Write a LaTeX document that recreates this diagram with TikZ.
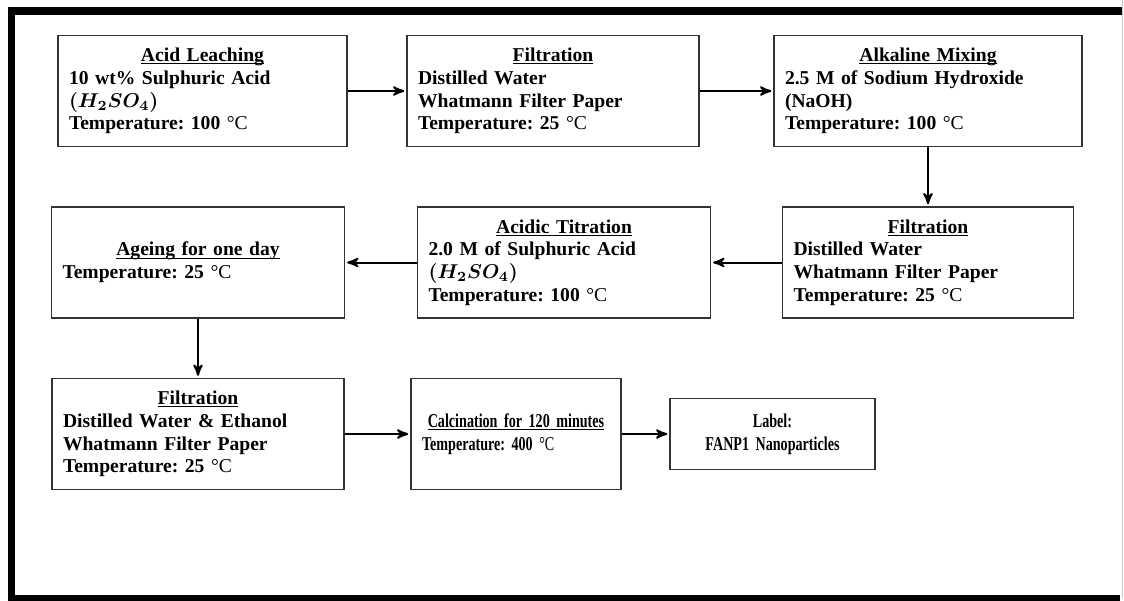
\documentclass[tikz,border=0pt]{standalone}
\usepackage{fontspec}
\setmainfont{Liberation Serif}
\newfontfamily\narrowfont{Liberation Serif}[FakeStretch=0.72]
\usetikzlibrary{arrows}

\newcommand{\ulword}[1]{\setbox0=\hbox{#1}\rlap{\rule[-1.4pt]{\wd0}{0.5pt}}\box0}
\newcommand{\steptitle}[1]{\makebox[\linewidth]{\ulword{#1}}}
\newcommand{\degc}{\textmd{°C}}

\begin{document}
\frenchspacing
\begin{tikzpicture}[x=0.5pt,y=-0.5pt,->,>=stealth',shorten >=1pt,
                    line width=1pt]

  \tikzstyle{stage}=[rectangle,draw=black!80,line width=0.7pt,align=left,
                     font=\fontsize{9.8}{11.4}\selectfont\bfseries\boldmath,
                     inner xsep=5.5pt,inner ysep=0pt,
                     minimum height=55.5pt,text width=135pt]

  \useasboundingbox (0,0) rectangle (1124,600);

  % outer frame
  \draw[-,line width=3.75pt] (1122,11) -- (11.5,11) -- (11.5,599) -- (1122,599);
  \draw[-,line width=0.5pt,black!20] (1122.5,0) -- (1122.5,600);

  \node[stage,text width=133.5pt] (AL) at (202.5,91)
        {\steptitle{Acid Leaching}\\ 10 wt\% Sulphuric Acid\\ $(H_2SO_4)$\\ Temperature: 100 \degc};
  \node[stage] (F1) [node distance=175.25pt,right of=AL]
        {\steptitle{Filtration}\\ Distilled Water\\ Whatmann Filter Paper\\ Temperature: 25 \degc};
  \node[stage,text width=143pt] (AM) [node distance=187.5pt,right of=F1]
        {\steptitle{Alkaline Mixing}\\ 2.5 M of Sodium Hydroxide\\ (NaOH)\\ Temperature: 100 \degc};

  \node[stage,text width=134.5pt] (F2) [node distance=85.75pt,below of=AM]
        {\steptitle{Filtration}\\ Distilled Water\\ Whatmann Filter Paper\\ Temperature: 25 \degc};
  \node[stage,text width=135.5pt] (AT) [node distance=182pt,left of=F2]
        {\steptitle{Acidic Titration}\\ 2.0 M of Sulphuric Acid\\ $(H_2SO_4)$\\ Temperature: 100 \degc};
  \node[stage,text width=135.5pt] (AG) [node distance=183pt,left of=AT]
        {\steptitle{Ageing for one day}\\ Temperature: 25 \degc};

  \node[stage] (F3) [node distance=85.75pt,below of=AG]
        {\steptitle{Filtration}\\ Distilled Water \& Ethanol\\ Whatmann Filter Paper\\ Temperature: 25 \degc};
  \node[stage,text width=94pt,font=\fontsize{9.8}{11.4}\narrowfont\bfseries]
        (CA) [node distance=159pt,right of=F3]
        {\steptitle{Calcination for 120 minutes}\\ Temperature: 400 \degc};
  \node[stage,text width=91.5pt,minimum height=35.5pt,align=center,
        font=\fontsize{9.8}{11.4}\narrowfont\bfseries]
        (LB) [node distance=128.25pt,right of=CA]
        {Label:\\ FANP1 Nanoparticles};

  \path
  (AL) edge (F1)
  (F1) edge (AM)
  (AM) edge (F2)
  (F2) edge (AT)
  (AT) edge (AG)
  (AG) edge (F3)
  (F3) edge (CA)
  (CA) edge (LB)
  ;
\end{tikzpicture}
\end{document}
